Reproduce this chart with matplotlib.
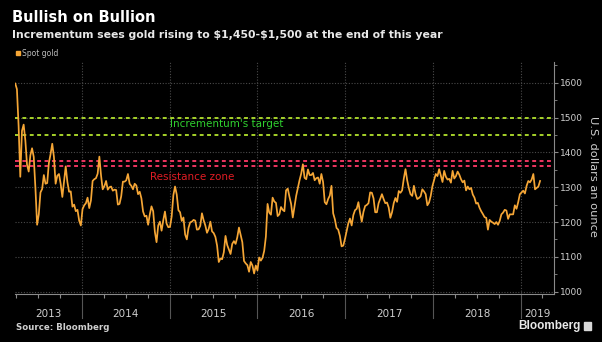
import matplotlib
matplotlib.use("Agg")
import matplotlib.pyplot as plt
import matplotlib.dates as mdates
import matplotlib.transforms as mtransforms
from matplotlib.patches import Rectangle
import pandas as pd
import numpy as np

# ---- data: weekly spot gold (USD/oz), Fridays from 2013-03-29 ----
gold_2013 = [1598, 1582, 1476, 1330, 1462, 1480, 1435, 1365, 1345, 1392,
             1412, 1387, 1297, 1192, 1222, 1285, 1295, 1335, 1310, 1312,
             1370, 1395, 1425, 1387, 1310, 1333, 1338, 1310, 1272, 1315,
             1360, 1315, 1287, 1288, 1244, 1250, 1231, 1235, 1204, 1190]
gold_2014 = [1237, 1248, 1254, 1270, 1240, 1262, 1318, 1323, 1326, 1339,
             1388, 1334, 1294, 1303, 1318, 1293, 1300, 1302, 1290, 1293,
             1292, 1250, 1252, 1274, 1316, 1316, 1320, 1338, 1310, 1304,
             1294, 1310, 1305, 1280, 1287, 1268, 1230, 1216, 1218, 1192,
             1222, 1245, 1231, 1172, 1142, 1190, 1201, 1175, 1205, 1230,
             1195, 1185]
gold_2015 = [1186, 1216, 1277, 1302, 1279, 1234, 1228, 1203, 1213, 1164,
             1150, 1183, 1199, 1201, 1206, 1204, 1178, 1179, 1189, 1225,
             1205, 1190, 1169, 1180, 1201, 1173, 1168, 1157, 1132, 1085,
             1095, 1093, 1113, 1160, 1134, 1121, 1108, 1137, 1145, 1137,
             1156, 1184, 1163, 1142, 1088, 1081, 1076, 1057, 1085, 1075,
             1052, 1075]
gold_2016 = [1061, 1098, 1089, 1097, 1117, 1158, 1252, 1227, 1221, 1270,
             1259, 1255, 1217, 1222, 1243, 1235, 1231, 1291, 1296, 1273,
             1252, 1213, 1243, 1275, 1298, 1320, 1339, 1366, 1327, 1323,
             1351, 1335, 1335, 1341, 1320, 1326, 1328, 1310, 1338, 1315,
             1257, 1251, 1266, 1276, 1304, 1225, 1208, 1183, 1178, 1160,
             1130, 1132, 1151]
gold_2017 = [1173, 1196, 1210, 1190, 1220, 1234, 1238, 1257, 1226, 1201,
             1229, 1246, 1249, 1254, 1285, 1284, 1268, 1228, 1228, 1254,
             1267, 1280, 1266, 1254, 1256, 1242, 1212, 1228, 1254, 1269,
             1258, 1289, 1284, 1291, 1325, 1352, 1320, 1297, 1280, 1275,
             1304, 1280, 1266, 1269, 1274, 1294, 1288, 1280, 1248, 1256,
             1275, 1303]
gold_2018 = [1320, 1338, 1332, 1352, 1333, 1315, 1347, 1330, 1322, 1324,
             1313, 1347, 1325, 1332, 1345, 1336, 1323, 1314, 1319, 1291,
             1302, 1294, 1298, 1279, 1270, 1253, 1255, 1241, 1231, 1223,
             1214, 1212, 1178, 1206, 1201, 1198, 1194, 1200, 1192, 1203,
             1222, 1227, 1235, 1233, 1209, 1222, 1222, 1222, 1248, 1238,
             1257, 1280]
gold_2019 = [1285, 1290, 1282, 1304, 1318, 1314, 1322, 1338, 1294, 1298,
             1302, 1318]

target_levels = [1500, 1450]
resistance_levels = [1375, 1360]
y_ticks = [1000, 1100, 1200, 1300, 1400, 1500, 1600]
year_labels = ['2013', '2014', '2015', '2016', '2017', '2018', '2019']

prices = gold_2013 + gold_2014 + gold_2015 + gold_2016 + gold_2017 + gold_2018 + gold_2019
dates = pd.date_range('2013-03-29', periods=len(prices), freq='W-FRI')

# ---- figure ----
W, H = 602, 342
fig = plt.figure(figsize=(W / 100, H / 100), dpi=100, facecolor='black')
ax = fig.add_axes([15 / W, 1 - 294 / H, 539 / W, 232 / H])
ax.set_facecolor('black')

x0 = pd.Timestamp('2013-03-28')
x1 = pd.Timestamp('2019-05-19')
ax.set_xlim(x0, x1)
ax.set_ylim(993, 1660)

grid_c = '#4a4a4a'
axis_c = '#8a8a8a'
txt_c = '#cfcfcf'

# horizontal grid
for v in y_ticks:
    ax.axhline(v, color=grid_c, lw=0.8, ls=(0, (1, 1.5)), zorder=1)

# year separators
trans = mtransforms.blended_transform_factory(ax.transData, ax.transAxes)
for yr in year_labels[1:]:
    d = pd.Timestamp(f'{yr}-01-01')
    ax.axvline(d, color=grid_c, lw=0.8, ls=(0, (1, 1.5)), zorder=1)
    ax.plot([d, d], [0, -0.105], transform=trans, color='#555555', lw=0.8,
            clip_on=False, zorder=1)

# target & resistance dashed lines
for v in target_levels:
    ax.axhline(v, color='#a6d22a', lw=1.4, ls=(0, (2.0, 1.8)), zorder=2)
for v in resistance_levels:
    ax.axhline(v, color='#ee3560', lw=1.4, ls=(0, (2.0, 1.8)), zorder=2)

# gold line
ax.plot(dates, prices, color='#f5a636', lw=1.25, zorder=3)

# spines & ticks
for s in ['left', 'top']:
    ax.spines[s].set_visible(False)
for s in ['right', 'bottom']:
    ax.spines[s].set_color(axis_c)
    ax.spines[s].set_linewidth(0.8)

ax.yaxis.tick_right()
ax.set_yticks(y_ticks)
ax.set_yticklabels([str(v) for v in y_ticks])
ax.set_yticks(np.arange(1050, 1651, 100), minor=True)
ax.tick_params(axis='y', which='major', direction='out', length=3, width=0.8,
               color=axis_c, labelcolor=txt_c, labelsize=6.5, pad=1.5)
ax.tick_params(axis='y', which='minor', direction='out', length=2, width=0.6,
               color=axis_c)

ax.xaxis.set_major_locator(mdates.MonthLocator(bymonth=[4, 7, 10]))
ax.xaxis.set_minor_locator(mdates.MonthLocator(bymonth=[1]))
ax.tick_params(axis='x', which='major', direction='out', length=3, width=0.8,
               color=axis_c, labelbottom=False)
ax.tick_params(axis='x', which='minor', length=0, labelbottom=False)

# year labels, centred on visible part of each year
for yr in year_labels:
    a = max(pd.Timestamp(f'{yr}-01-01'), x0)
    b = min(pd.Timestamp(f'{int(yr) + 1}-01-01'), x1)
    mid = a + (b - a) / 2
    ax.text(mid, -0.085, yr, transform=trans, ha='center', va='center',
            color=txt_c, fontsize=7.5)

def ftext(x, y, s, **kw):
    fig.text(x / W, 1 - y / H, s, **kw)

ftext(593, 176, 'U.S. dollars an ounce', rotation=270, color=txt_c,
      fontsize=8.2, va='center', ha='center')

# annotations in plot
ftext(170, 124, "Incrementum's target", color='#2fd02f', fontsize=7.5,
      va='center', ha='left')
ftext(150, 177.5, 'Resistance zone', color='#e01c24', fontsize=7.5,
      va='center', ha='left')

# titles
ftext(12, 17, 'Bullish on Bullion', color='white', fontsize=10.5,
      fontweight='bold', va='center', ha='left')
ftext(12, 35, r'Incrementum sees gold rising to \$1,450-\$1,500 at the end of this year',
      color='#e8e8e8', fontsize=7.8, fontweight='bold', va='center', ha='left')

# legend
fig.patches.append(Rectangle((16 / W, 1 - 55 / H), 4 / W, 4 / H,
                             transform=fig.transFigure, color='#f5a636'))
ftext(22, 53, 'Spot gold', color='#bdbdbd', fontsize=5.5, va='center', ha='left')

# footer
ftext(16, 327, 'Source: Bloomberg', color=txt_c, fontsize=6.2,
      fontweight='bold', va='center', ha='left')
ftext(581, 326, 'Bloomberg', color='#e8e8e8', fontsize=8.5,
      fontweight='bold', family='Liberation Sans', va='center', ha='right')
fig.patches.append(Rectangle((584 / W, 1 - 330 / H), 7 / W, 8 / H,
                             transform=fig.transFigure, color='#d8d8d8'))

fig.savefig('out.png', dpi=100, facecolor='black')
